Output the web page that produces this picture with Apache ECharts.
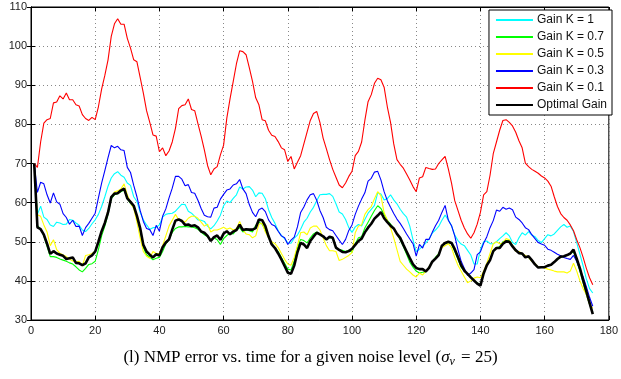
<!DOCTYPE html>
<html>
<head>
<meta charset="utf-8">
<script src="https://cdn.jsdelivr.net/npm/echarts@6/dist/echarts.min.js"></script>
<style>
  html, body { margin: 0; padding: 0; background: #fff; }
  #chart { width: 621px; height: 379px; }
</style>
</head>
<body>
<div id="chart"></div>
<script>
// samples at t = 1..175
const gainK1 = [
  70, 57, 59.1, 56.3, 55.7, 54.3, 53.9, 55, 54.8, 54.4,
  54.5, 55.7, 55.5, 54.8, 54.2, 53, 52.6, 53.4, 54.6, 55.6,
  57, 59, 61.5, 64.2, 66.3, 67.4, 67.9, 67, 66.5, 65,
  64.4, 61.5, 60.3, 57.5, 55.6, 54.3, 53.2, 53.6, 53.7, 54.3,
  56.3, 57, 57.2, 57.3, 57.8, 58.7, 59.6, 59.5, 57.8, 57.3,
  56.5, 55.6, 55.5, 55.2, 54, 53.3, 54.1, 55.3, 56.8, 59.2,
  60.4, 60, 61.1, 62, 64, 63.5, 64, 64.1, 63.2, 61.5,
  62.5, 62.4, 61, 58.2, 56.2, 54.7, 52.8, 51.6, 50.8, 49.7,
  49.6, 50.9, 51.7, 53.2, 55, 56, 57.6, 58.8, 60.5, 62,
  62.1, 62.1, 62.3, 61.6, 59.7, 57.6, 57.1, 55.7, 53.6, 52.4,
  53.8, 54.4, 54, 55.7, 57.3, 58.3, 59.3, 62.5, 62.2, 60.7,
  61, 62, 60.7, 59.7, 58.3, 57.2, 56.3, 54, 50.5, 47.5,
  48.1, 48.8, 49.7, 50.7, 52.2, 53, 53.9, 55.5, 56.8, 55.6,
  54.1, 51.7, 50.3, 49.4, 49, 47.8, 46.6, 44.3, 44.3, 48,
  50, 50.2, 49.5, 49.5, 50, 50.8, 51.5, 52.3, 51.5, 49.8,
  49.3, 51, 52.3, 51.7, 52.6, 51.7, 51.3, 50.3, 49.8, 50.8,
  51.8, 51.5, 52, 52.9, 53.8, 54.4, 53.7, 54, 52.6, 49.8,
  46.8, 43.8, 40.5, 38, 36.9
];
const gainK07 = [
  70, 54.1, 53.2, 51.5, 48.8, 46.2, 46.2, 46, 45.6, 45.3,
  45, 44.6, 44.3, 43.6, 42.8, 42.3, 43.2, 44.2, 44.4, 45,
  48, 51.5, 54, 57, 61, 62, 62.3, 62.8, 63.2, 61,
  59.8, 58.8, 56.2, 53, 48.5, 46.6, 46.1, 45.4, 45.8, 46,
  47.5, 49.5, 50.5, 52.4, 53.4, 53.8, 53.8, 53.9, 53.8, 53.8,
  53.6, 53.2, 52.5, 51.8, 51.3, 50.5, 51, 50.5, 49.3, 50.8,
  51.6, 52.2, 52, 53, 53.6, 52.5, 53, 52.8, 52.5, 54.2,
  55, 54.5, 53, 51, 49.5, 48.5, 47.5, 46, 44.5, 43,
  42.8, 45, 48.5, 50.6, 50.3, 49.7, 51, 52, 52.5, 52,
  51.2, 50.5, 51, 51, 48.5, 48, 47.8, 47.5, 47.8, 47.3,
  49.5, 51, 51.3, 53.5, 55, 56.5, 58, 59.2, 58.5, 57,
  55.5, 54.5, 53.5, 52, 50.5, 48.8, 46.8, 44.8, 43.5, 42.5,
  42, 42.2, 42.3, 43.5, 45, 46, 47, 48.8, 49.5, 49.8,
  49.5, 47.5, 45.5, 43.5, 42.5, 41.8, 41, 40, 39.5, 39,
  41.8, 44, 45.5, 47.5, 48.5, 48.7, 50, 50.3, 50.3, 49,
  48, 47.2, 46.8, 46.2, 46, 45.2, 44.3, 43.5, 43.5, 43.5,
  43.8, 44, 44.8, 45.5, 46, 46.3, 46.5, 47, 47.5, 45,
  42.5, 39.5, 36.5, 34, 32
];
const gainK05 = [
  70, 56.9, 56.5, 54.3, 52.5, 49, 50.5, 48, 47.1, 46.6,
  46.2, 45.6, 45.1, 44.8, 45, 43.8, 46.5, 46.7, 47, 47.6,
  50, 52.5, 55, 58, 61.5, 62.7, 63, 63.5, 64.8, 62,
  60, 58.5, 55, 51, 47.5, 46.3, 45.8, 47.5, 47, 47,
  49, 51.5, 54, 55.5, 57, 55.6, 55.5, 55, 56, 56.5,
  56.5, 56, 55, 54, 54.5, 52.5, 53, 53, 53.3, 53.7,
  53.2, 53.5, 53, 53.3, 55.2, 53, 52, 51.8, 51, 51.5,
  54.5, 54.8, 52.5, 51, 50, 49.5, 48.5, 47, 45.5, 44.3,
  44, 46, 49, 52.3, 52.5, 51.8, 53.5, 54, 54, 53,
  51, 49, 47.7, 47.7, 47.5, 45.2, 45.5, 46, 46.5, 47.2,
  52.3, 54, 54.3, 57, 58.2, 59, 61, 62.8, 61.8, 57.4,
  55.5, 53.6, 51, 48, 45, 44, 43, 42.3, 41.5, 41,
  42, 41.5, 42.5, 43.5, 45, 45.8, 46.8, 48.5, 49, 49.5,
  48.5, 46, 44, 42.5, 41, 39.5, 40, 40.7, 41, 40.8,
  42.5, 44.5, 47, 49.5, 50, 49.5, 49.7, 50.8, 50.5, 49,
  47.5, 47.5, 47, 46.5, 46, 45, 44.5, 43.5, 43.5, 43.3,
  43, 42.8, 42.5, 42.3, 42.3, 42.3, 42, 42.5, 44.5, 42.5,
  40, 38, 36.5, 34, 33
];
const gainK03 = [
  70, 62.6, 65.2, 64.8, 62, 59.9, 62.5, 60.2, 59.6, 57.2,
  56.2, 54.5, 55.5, 53.9, 54, 51.6, 53.6, 54.7, 56, 57.3,
  61.2, 65, 68.2, 71.5, 74.6, 74, 74.4, 73.5, 73.3, 69,
  67.7, 64.4, 61.5, 58, 55.2, 53.4, 53.1, 51.6, 54.2, 52.7,
  56.5, 58.4, 61.2, 63.7, 66.7, 66.7, 66, 64.3, 64.6, 62.6,
  62.4, 60.6, 58.5, 56.8, 56.4, 56.3, 58.6, 58.8, 60.9, 62.1,
  63.2, 63.5, 64.5, 64.8, 65.9, 63.5, 62.3, 59.5, 57.5, 56.4,
  58.2, 58.6, 57.7, 55.6, 54.4, 54, 52.7, 51.5, 51, 49.3,
  50.4, 51.2, 53.8, 57.5, 58.9, 60.7, 62, 62.3, 60.6, 58,
  56.2, 53.7, 53.1, 52.8, 51.6, 50.4, 49.3, 50.6, 52.9, 54.3,
  57, 59.1, 60.9, 62.5, 65.5, 66.2, 67.8, 68, 65.8, 62.8,
  60.5, 58.8, 57.2, 55.8, 54.7, 53.4, 52, 50.7, 49.5, 46.3,
  49.3, 48.4, 50.6, 50.6, 52.4, 54.1, 55.5, 57.5, 59.3, 55.5,
  54.1, 51.5, 48, 45, 43.2, 41.4, 42, 42.9, 46.7, 47.4,
  49.6, 51.3, 53.6, 55.4, 58.1, 57.8, 58.8, 58.3, 58.6, 58.2,
  56.3, 55.7, 54.8, 53.6, 53.1, 51.8, 50.8, 49.8, 49.4, 49.1,
  48.1, 47.8, 47.3, 46.8, 46.4, 46, 45.7, 45.5, 46.5, 45,
  42.8, 41, 38.5, 35.8, 33.5
];
const gainK01 = [
  70, 69, 75.5, 80.3, 81.2, 81.5, 85.5, 85.7, 87.3, 86.5,
  88, 86.3, 86.3, 85, 84.7, 82.5, 81.5, 81, 81.8, 81.2,
  84.5, 89, 92.5, 96.5, 102.5, 105.7, 107, 105.6, 105.6, 102,
  99.5, 96.5, 96, 92, 88, 83.5, 80.5, 77.3, 77, 73,
  74, 72, 73.2, 75.5, 79, 84, 84.8, 85, 86.5, 83.8,
  83.5, 80.2, 77, 73.5, 69.5, 67.1, 68.6, 69.2, 72.2, 74.7,
  81.6, 86.5, 91, 95.5, 98.8, 98.6, 97.8, 94.5, 91, 86.8,
  85, 81.2, 80.9, 78.5, 77.2, 76.9, 75.6, 74, 73.5, 70.5,
  71.8, 68.6, 70.3, 72, 75, 78, 81, 82.8, 83.3, 80.5,
  76.5, 73.8, 71, 68.5, 66.5, 64.5, 63.8, 65, 66.7, 68,
  72, 73.1, 75.5, 81, 85.8, 87.6, 90.5, 91.8, 91.4, 89.5,
  84.5, 80.5, 75, 71, 69.8, 68.8, 67.3, 65.8, 64.1, 62.8,
  66.3, 66.6, 69, 68.7, 68.5, 68.6, 70, 70.9, 71.8, 68.6,
  65, 60.5, 58, 55.5, 53.5, 52, 50.9, 52.3, 54.5, 57.5,
  62, 62.8, 67, 72.5, 75.5, 78.5, 81, 81.2, 80.5, 79.6,
  78, 75.8, 74, 70.1, 69.2, 68.5, 68, 67.5, 66.8, 66.3,
  65.5, 64.2, 61.5, 59, 57.2, 56.2, 55.5, 54.3, 52.8, 50.5,
  48.5, 46, 43.2, 40.8, 39
];
const optimalGain = [
  70, 53.7, 53.2, 51.8, 49.5, 46.9, 47.6, 47, 46.7, 46.4,
  45.6, 45.8, 46, 44.6, 44.5, 44, 44.5, 46, 46.5, 47.5,
  50, 52.7, 54.8, 57.5, 61.4, 62.3, 62.4, 63.1, 63.6, 61.1,
  60.2, 59.2, 56.6, 53.5, 49.2, 47.5, 46.7, 46, 46.8, 46.5,
  48.6, 49.8, 50.6, 53.1, 55.4, 55.7, 55.3, 54.3, 54.4, 54,
  54.2, 53.7, 52.6, 52.3, 51.5, 50.2, 51.2, 51.6, 50.5, 52.1,
  52.7, 51.9, 52.6, 53, 54.4, 53, 53.2, 53.1, 53.1, 53.5,
  55.7, 55.5, 54, 51.4, 49.3, 48.4, 47, 45.5, 43.8, 42.1,
  41.8, 43.9, 47.3, 49.7, 49.3, 48.4, 50.2, 51.3, 52.3, 51.9,
  51.4, 50.6, 51.3, 51, 48.5, 47.9, 47.4, 47.3, 47.6, 48.2,
  49.2, 50.2, 50.8, 52.4, 53.6, 54.6, 55.9, 56.7, 57.6, 56,
  55, 54.1, 53.4, 52, 51, 49.2, 47.5, 45.8, 44.2, 43.3,
  43, 43, 42.4, 43.3, 44.9, 45.7, 46.6, 49, 49.7, 50,
  49.7, 48.1, 46.1, 44, 42.6, 41.8, 40.9, 40.1, 39.3, 38.8,
  41.9, 44, 45.3, 47.6, 48.4, 48.4, 49.5, 50.1, 50, 48.8,
  47.8, 47.1, 47, 46, 46.3, 45.3, 44.2, 43.4, 43.5, 43.5,
  43.9, 44.1, 44.8, 45.6, 46.2, 46.3, 46.6, 47, 48, 45.7,
  43.2, 40.2, 37.3, 34.4, 31.5
];

const seriesNames = ['Gain K = 1', 'Gain K = 0.7', 'Gain K = 0.5', 'Gain K = 0.3', 'Gain K = 0.1', 'Optimal Gain'];
const seriesValues = [gainK1, gainK07, gainK05, gainK03, gainK01, optimalGain];
const seriesColors = ['#00ffff', '#00ff00', '#ffff00', '#0000ff', '#ff0000', '#000000'];
const seriesWidths = [1.1, 1.1, 1.1, 1.1, 1.1, 2.6];

const caption = '(l) NMP error vs. time for a given noise level (';

const chart = echarts.init(document.getElementById('chart'), null, { renderer: 'canvas' });

const axisFont = { fontFamily: 'Liberation Sans, Arial, sans-serif', fontSize: 11, color: '#222' };

function pairs(vals) {
  return vals.map((v, i) => [i + 1, v]);
}

chart.setOption({
  animation: false,
  backgroundColor: '#fff',
  title: {
    text: caption + '{i|σ}{s|ν}{n| = 25)}',
    left: 'center',
    top: 342,
    textStyle: {
      fontFamily: 'Liberation Serif, Times New Roman, serif',
      fontSize: 17,
      fontWeight: 'normal',
      color: '#000',
      rich: {
        i: { fontFamily: 'Liberation Serif, serif', fontStyle: 'italic', fontSize: 17, color: '#000' },
        s: { fontFamily: 'Liberation Serif, serif', fontStyle: 'italic', fontSize: 12, color: '#000', padding: [9, 2, 0, 0] },
        n: { fontFamily: 'Liberation Serif, serif', fontSize: 17, color: '#000' }
      }
    }
  },
  grid: { left: 31, right: 8, top: 7, bottom: 59, show: true, borderColor: '#000', borderWidth: 1, backgroundColor: '#fff' },
  legend: {
    orient: 'vertical',
    right: 9,
    top: 10,
    padding: [4, 5, 4, 6],
    itemWidth: 37,
    itemHeight: 12,
    itemGap: 5,
    backgroundColor: '#fff',
    borderColor: '#000',
    borderWidth: 1,
    itemStyle: { opacity: 0 },
    textStyle: { fontFamily: 'Liberation Sans, Arial, sans-serif', fontSize: 12, color: '#111', padding: [0, 0, 0, -1] },
    data: seriesNames
  },
  xAxis: [
    {
      type: 'value', min: 0, max: 180, interval: 20,
      axisLine: { lineStyle: { color: '#000', width: 1 } },
      axisTick: { inside: true, length: 4, lineStyle: { color: '#000' } },
      axisLabel: Object.assign({ margin: 5 }, axisFont),
      splitLine: { show: true, lineStyle: { color: '#888', type: [1, 3], width: 1 } }
    },
    {
      type: 'value', min: 0, max: 180, interval: 20, position: 'top',
      axisLine: { lineStyle: { color: '#000' } },
      axisTick: { inside: true, length: 4, lineStyle: { color: '#000' } },
      axisLabel: { show: false },
      splitLine: { show: false }
    }
  ],
  yAxis: [
    {
      type: 'value', min: 30, max: 110, interval: 10,
      axisLine: { show: true, lineStyle: { color: '#000', width: 1 } },
      axisTick: { show: true, inside: true, length: 4, lineStyle: { color: '#000' } },
      axisLabel: Object.assign({ margin: 4 }, axisFont),
      splitLine: { show: true, lineStyle: { color: '#888', type: [1, 3], width: 1 } }
    },
    {
      type: 'value', min: 30, max: 110, interval: 10, position: 'right',
      axisLine: { show: true, lineStyle: { color: '#000' } },
      axisTick: { show: true, inside: true, length: 4, lineStyle: { color: '#000' } },
      axisLabel: { show: false },
      splitLine: { show: false }
    }
  ],
  series: seriesNames.map((name, k) => ({
    name: name,
    type: 'line',
    xAxisIndex: 0,
    yAxisIndex: 0,
    data: pairs(seriesValues[k]),
    symbol: 'none',
    z: 2 + k,
    lineStyle: { color: seriesColors[k], width: seriesWidths[k] },
    itemStyle: { color: seriesColors[k] }
  }))
});
</script>
</body>
</html>
